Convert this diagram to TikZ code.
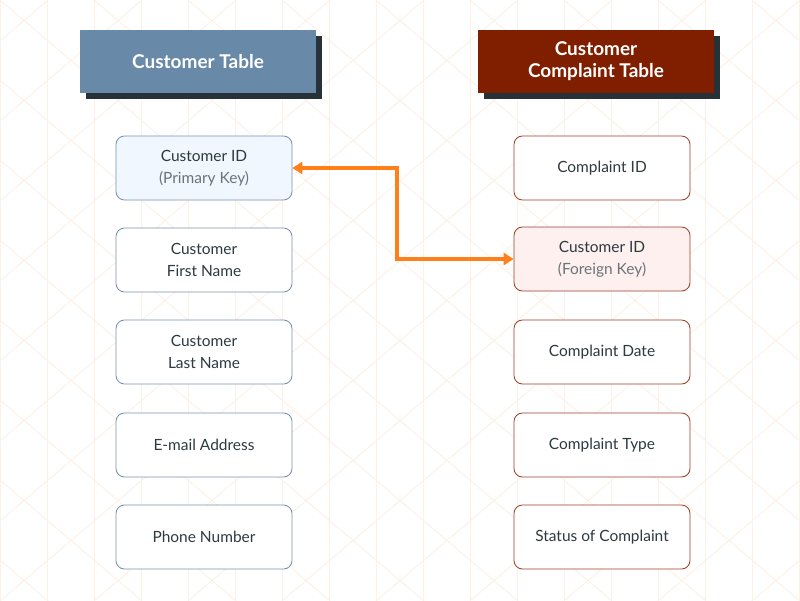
\documentclass[tikz,border=0pt]{standalone}
\usepackage{fontspec}
\setmainfont{Lato}
\usetikzlibrary{arrows.meta}
\definecolor{hdblue}{HTML}{6889A8}
\definecolor{hdred}{HTML}{801E00}
\definecolor{hdshade}{HTML}{263238}
\definecolor{txtdark}{HTML}{2D3A40}
\definecolor{txtgrey}{HTML}{6B7479}
\definecolor{lborder}{HTML}{7793B0}
\definecolor{rborder}{HTML}{A0412A}
\definecolor{pkfill}{HTML}{F0F7FF}
\definecolor{fkfill}{HTML}{FDF0EE}
\definecolor{linkorange}{HTML}{FF7F1A}
\definecolor{grid}{HTML}{FDF0E4}
\tikzset{
  header/.style={minimum width=236*0.025cm,minimum height=63*0.025cm,
    text=white,font=\fontsize{13.5}{15.6}\selectfont\bfseries,align=center,inner sep=0pt},
  field/.style={draw,rounded corners=6pt,line width=0.6pt,fill=white,
    minimum width=176*0.025cm,minimum height=64*0.025cm,
    text=txtdark,font=\fontsize{11}{15.6}\selectfont,align=center,inner sep=0pt},
  lfield/.style={field,draw=lborder},
  rfield/.style={field,draw=rborder},
  link/.style={draw=linkorange,line width=2.3pt,
    {Triangle[length=7pt,width=8.5pt]}-{Triangle[length=7pt,width=8.5pt]}}
}
\begin{document}
\begin{tikzpicture}[x=0.025cm,y=-0.025cm]
\useasboundingbox (0,0) rectangle (800,600);
\fill[white] (0,0) rectangle (800,600);
% background lattice
\begin{scope}
\clip (0,0) rectangle (800,600);
\foreach \k in {0,...,17} \draw[grid,line width=0.6pt] (47*\k,0) -- (47*\k,600);
\foreach \c in {-720,-640,...,640} {
  \draw[grid,line width=0.6pt] (0,\c) -- (800,\c+681);
  \draw[grid,line width=0.6pt] (0,\c+681) -- (800,\c);
}
\end{scope}
% headers
\fill[hdshade] (86,36) rectangle (322,99);
\node[header,fill=hdblue] (hl) at (198,61.5) {Customer Table};
\fill[hdshade] (484,36) rectangle (720,99);
\node[header,fill=hdred] (hr) at (596,61.5) {Customer\\Complaint Table};
% customer fields
\node[lfield,fill=pkfill] (l0) at (204,168) {Customer ID\\{\color{txtgrey}(Primary Key)}};
\node[lfield] (l1) at (204,260) {Customer\\First Name};
\node[lfield] (l2) at (204,352) {Customer\\Last Name};
\node[lfield] (l3) at (204,445) {E-mail Address};
\node[lfield] (l4) at (204,537) {Phone Number};
% complaint fields
\node[rfield] (r0) at (602,168) {Complaint ID};
\node[rfield,fill=fkfill] (r1) at (602,259) {Customer ID\\{\color{txtgrey}(Foreign Key)}};
\node[rfield] (r2) at (602,352) {Complaint Date};
\node[rfield] (r3) at (602,445) {Complaint Type};
\node[rfield] (r4) at (602,537) {Status of Complaint};
% key relation
\coordinate (bend) at (397,0);
\draw[link] (l0.east) -| (bend |- r1.west) -- (r1.west);
\end{tikzpicture}
\end{document}
